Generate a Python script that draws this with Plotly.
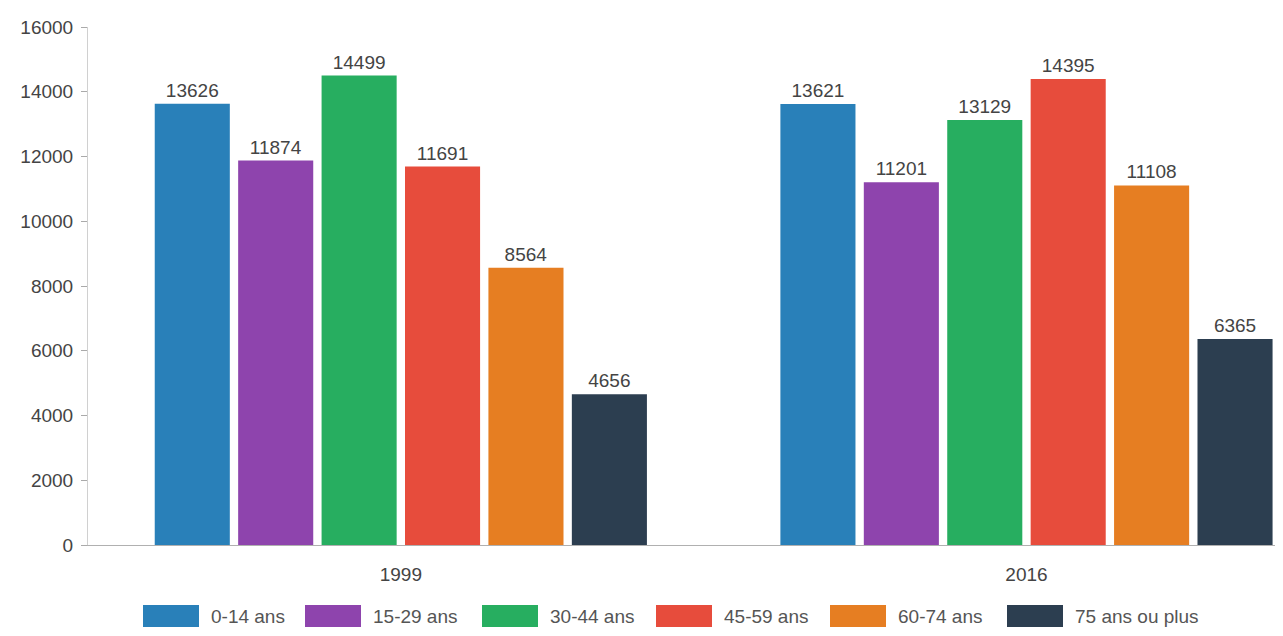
import plotly.graph_objects as go

years = ["1999", "2016"]
groups = ["0-14 ans", "15-29 ans", "30-44 ans", "45-59 ans", "60-74 ans", "75 ans ou plus"]
v_0_14 = [13626, 13621]
v_15_29 = [11874, 11201]
v_30_44 = [14499, 13129]
v_45_59 = [11691, 14395]
v_60_74 = [8564, 11108]
v_75p = [4656, 6365]
series = [v_0_14, v_15_29, v_30_44, v_45_59, v_60_74, v_75p]
colors = ["#2980b9", "#8e44ad", "#27ae60", "#e74c3c", "#e67e22", "#2c3e50"]

FONT = "Liberation Sans, Arial, sans-serif"

# page has an 8px body margin: plot area spans viewport x 88..1283, y 27..545
W, H = 1275, 628
ML, MT, MB, MR = 80, 19, 91, 0
PX0, PX1, PY0, PY1 = 88, 1283, 27, 545


def px_to_paper_x(px):
    return (px - PX0) / (PX1 - PX0)


def py_to_paper_y(py):
    return (PY1 - py) / (PY1 - PY0)


fig = go.Figure()
for name, vals, col in zip(groups, series, colors):
    fig.add_trace(go.Bar(
        x=years, y=vals, name=name, marker=dict(color=col, line=dict(width=0)),
        text=[str(v) for v in vals], textposition="outside",
        textfont=dict(family=FONT, size=19, color="#444444"),
        cliponaxis=False, showlegend=False,
    ))

# custom legend (wide swatches like the reference)
legend_x = [143, 305, 482, 656, 830, 1007]   # swatch left edges in viewport px
sw_w, sw_h, ly = 56, 22, 616
shapes = []
annotations = []
for i, (name, col) in enumerate(zip(groups, colors)):
    x0 = legend_x[i]
    shapes.append(dict(type="rect", xref="paper", yref="paper",
                       x0=px_to_paper_x(x0), x1=px_to_paper_x(x0 + sw_w),
                       y0=py_to_paper_y(ly + sw_h / 2), y1=py_to_paper_y(ly - sw_h / 2),
                       fillcolor=col, line=dict(width=0), layer="above"))
    annotations.append(dict(xref="paper", yref="paper",
                            x=px_to_paper_x(x0 + sw_w + 10), y=py_to_paper_y(ly),
                            xanchor="left", yanchor="middle", showarrow=False,
                            text=name, font=dict(family=FONT, size=19, color="#555555")))

fig.update_layout(
    width=W, height=H,
    margin=dict(l=ML, r=MR, t=MT, b=MB),
    paper_bgcolor="white", plot_bgcolor="white",
    barmode="group", bargap=0.2, bargroupgap=0.1,
    shapes=shapes, annotations=annotations,
    font=dict(family=FONT, color="#444444"),
    xaxis=dict(range=[-0.5, 1.41], showgrid=False, showline=True, linecolor="#b0b0b0",
               linewidth=1, ticks="", tickfont=dict(size=19, color="#444444"),
               ticklabelstandoff=12, zeroline=False, fixedrange=True),
    yaxis=dict(range=[0, 16000], dtick=2000, tickformat="d", showgrid=False, showline=True,
               linecolor="#d0d0d0", linewidth=1, ticks="outside", ticklen=6,
               tickcolor="#aaaaaa", tickfont=dict(size=19, color="#444444"),
               zeroline=False, fixedrange=True, ticklabelstandoff=4),
)

fig.write_html("out.html")
